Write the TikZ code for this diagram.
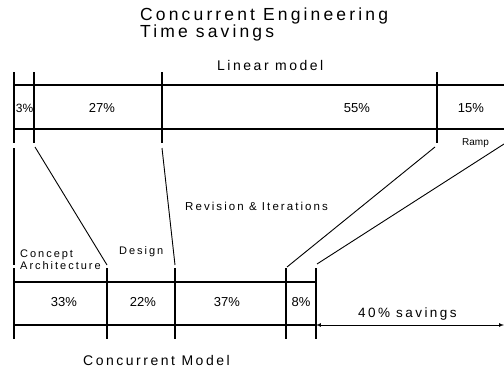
\documentclass[tikz,border=0pt]{standalone}
\usepackage{fontspec}
\setmainfont{Liberation Sans}
\newfontfamily\cadfont{Liberation Sans}[LetterSpace=18]
\usetikzlibrary{arrows,positioning}

\begin{document}
\begin{tikzpicture}[x=1pt, y=-1pt,
  bar/.style={line width=1.6pt},
  tick/.style={line width=1.4pt},
  link/.style={line width=0.9pt},
  lbl/.style={inner sep=0pt, anchor=base west, font=\cadfont\fontsize{11}{11}\selectfont},
  pct/.style={inner sep=0pt, anchor=base, font=\fontsize{13}{13}\selectfont}
]
  \useasboundingbox (0,0) rectangle (504,372);

  \node[lbl, font=\cadfont\fontsize{17.5}{17.5}\selectfont] (title) at (140,20) {Concurrent Engineering};
  \node[lbl, font=\cadfont\fontsize{17.5}{17.5}\selectfont] (subtitle) at (140,37) {Time savings};
  \node[lbl, font=\cadfont\fontsize{14}{14}\selectfont] (linear) at (217,70) {Linear model};

  \draw[bar] (14,85) -- (504,85);
  \draw[bar] (14,129) -- (504,129);
  \foreach \x/\n in {14/a,34/b,162/c,437/d}
    \draw[tick] (\x,72) -- (\x,143);

  \node[pct, font=\fontsize{12}{12}\selectfont] (lin3) at (24.5,112) {3\%};
  \node[pct] (lin27) at (102,112) {27\%};
  \node[pct] (lin55) at (357,112) {55\%};
  \node[pct] (lin15) at (471,112) {15\%};
  \node[inner sep=0pt, anchor=base west, font=\fontsize{10}{10}\selectfont] (ramp) at (462,145) {Ramp};

  \coordinate (ta) at (14,148);
  \coordinate (tb) at (35,147);
  \coordinate (tc) at (162,148);
  \coordinate (td) at (435,147);
  \coordinate (te) at (504,144);
  \coordinate (ba) at (14,265);
  \coordinate (bb) at (107,265);
  \coordinate (bc) at (175,265);
  \coordinate (bd) at (287,267);
  \coordinate (be) at (317,264);
  \draw[tick] (ta) -- (ba);
  \draw[link] (tb) -- (bb);
  \draw[link] (tc) -- (bc);
  \draw[link] (td) -- (bd);
  \draw[link] (te) -- (be);

  \node[lbl, font=\cadfont\fontsize{11.5}{11.5}\selectfont] (revision) at (185,210) {Revision \& Iterations};
  \node[lbl] (design) at (119,254) {Design};
  \node[lbl] (concept) at (20,257.5) {Concept};
  \node[lbl] (architecture) at (20,269.5) {Architecture};

  \draw[bar] (14,282) -- (316,282);
  \draw[bar] (14,325) -- (316,325);
  \foreach \x in {14,107,175,286,316}
    \draw[tick] (\x,268) -- (\x,339);

  \node[pct] (con33) at (64,306) {33\%};
  \node[pct] (con22) at (143,306) {22\%};
  \node[pct] (con37) at (227,306) {37\%};
  \node[pct] (con8) at (301,306) {8\%};

  \coordinate (savl) at (316,325);
  \coordinate (savr) at (504,325);
  \draw[latex-latex, line width=0.7pt] (savl) -- (savr);
  \node[lbl, font=\cadfont\fontsize{13.5}{13.5}\selectfont] (savings) at (358,317) {40\% savings};

  \node[lbl, font=\cadfont\fontsize{14}{14}\selectfont] (concurrent) at (83,365) {Concurrent Model};
\end{tikzpicture}
\end{document}
